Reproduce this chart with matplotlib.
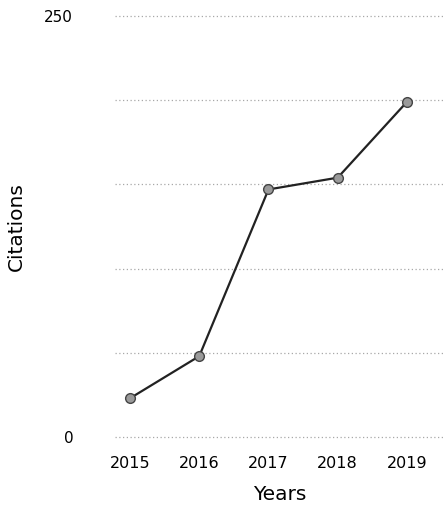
import matplotlib
matplotlib.use("Agg")
import matplotlib.pyplot as plt

years = [2015, 2016, 2017, 2018, 2019]
citations = [23, 48, 147, 154, 199]
y_ticks = [0, 250]
grid_levels = [0, 50, 100, 150, 200, 250]

fig = plt.figure(figsize=(4.45, 5.18), dpi=100)
ax = fig.add_axes([0.258, 0.1564, 0.742, 0.8127])

for lvl in grid_levels:
    ax.axhline(lvl, color="#a8a8a8", lw=0.9, ls=(0, (1, 2)), zorder=0, clip_on=False)

ax.plot(years, citations, color="#222222", lw=1.6, marker="o", markersize=7,
        markerfacecolor="#9a9a9a", markeredgecolor="#444444", markeredgewidth=1.0)

ax.set_xlim(2014.78, 2019.55)
ax.set_ylim(0, 250)
ax.set_xticks(years)
ax.set_xticklabels([str(y) for y in years], fontsize=11.5)
ax.set_yticks(y_ticks)
ax.set_yticklabels([str(v) for v in y_ticks], fontsize=11)
ax.tick_params(axis="both", length=0)
ax.tick_params(axis="y", pad=30)
ax.tick_params(axis="x", pad=14)
for s in ax.spines.values():
    s.set_visible(False)

ax.set_xlabel("Years", fontsize=14.5, labelpad=10)
ax.set_ylabel("Citations", fontsize=14.5)
ax.yaxis.set_label_coords(-0.27, 0.5)

fig.savefig("out.png", dpi=100)
